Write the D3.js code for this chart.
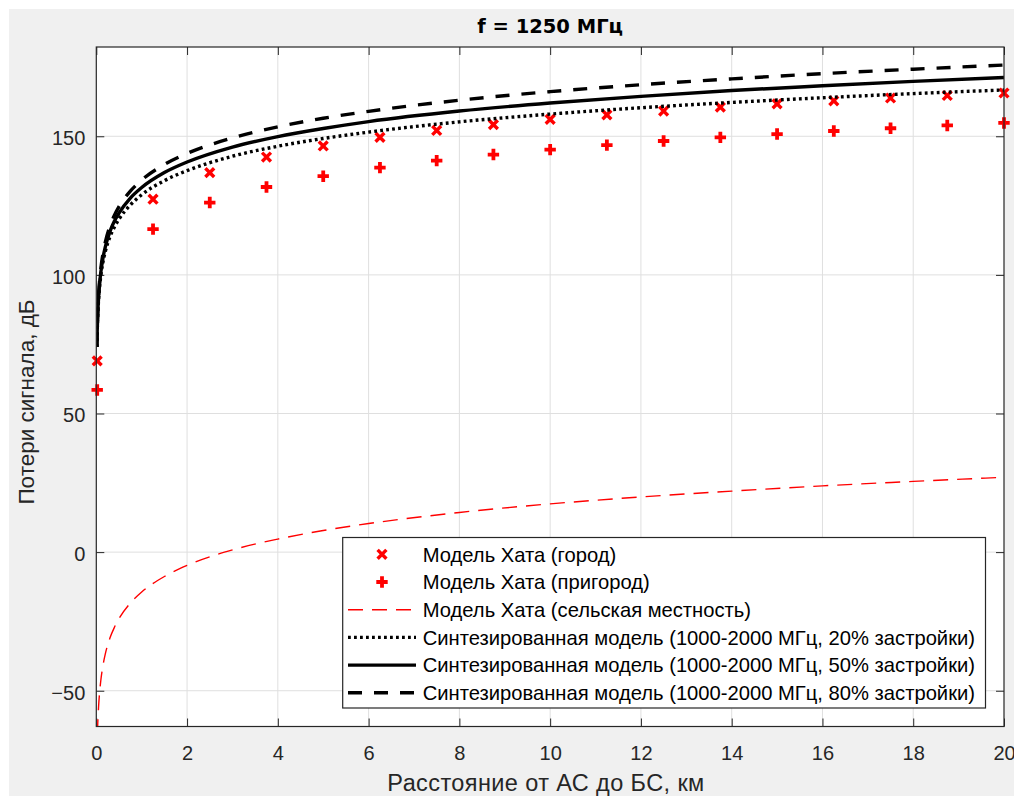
<!DOCTYPE html>
<html>
<head>
<meta charset="utf-8">
<script src="https://cdn.jsdelivr.net/npm/d3@7"></script>
<style>
  html, body { margin: 0; padding: 0; background: #ffffff; }
  svg { display: block; }
</style>
</head>
<body>
<svg id="chart" width="1014" height="796"></svg>
<script>
// Path loss vs. distance, f = 1250 MHz

// Distances (km) at which the continuous curves are sampled
const distKm = [0.013, 0.02, 0.03, 0.05, 0.075, 0.1, 0.15, 0.2, 0.3, 0.4, 0.5, 0.75,
                1, 1.5, 2, 3, 4, 5, 6, 8, 10, 12, 14, 16, 18, 20];

// Hata model, rural area (dB)
const hataRural = [-74.4, -68.4, -62.8, -55.8, -50.2, -46.2, -40.6, -36.6, -31.0, -27.1, -24.0, -18.4,
                   -14.4, -8.8, -4.8, 0.8, 4.7, 7.8, 10.3, 14.3, 17.4, 19.9, 22.0, 23.9, 25.5, 27.0];

// Synthesized model (1000-2000 MHz), 20% / 50% / 80% built-up (dB)
const synth20 = [74.0, 79.4, 84.6, 91.0, 96.1, 99.8, 104.9, 108.5, 113.7, 117.3, 120.1, 125.2,
                 128.9, 134.0, 137.6, 142.8, 146.4, 149.2, 151.5, 155.2, 158.0, 160.3, 162.2, 163.9, 165.4, 166.7];
const synth50 = [74.0, 79.7, 85.1, 91.8, 97.2, 101.0, 106.4, 110.2, 115.6, 119.4, 122.3, 127.7,
                 131.5, 136.9, 140.7, 146.1, 149.9, 152.8, 155.3, 159.1, 162.0, 164.4, 166.5, 168.2, 169.8, 171.2];
const synth80 = [74.0, 80.0, 85.6, 92.7, 98.3, 102.3, 107.9, 111.9, 117.5, 121.5, 124.6, 130.2,
                 134.2, 139.8, 143.8, 149.4, 153.4, 156.5, 159.0, 163.0, 166.1, 168.6, 170.7, 172.6, 174.2, 175.7];

// Distances (km) of the marker series
const markerKm = [0.02, 1.25, 2.5, 3.75, 5, 6.25, 7.5, 8.75, 10, 11.25, 12.5, 13.75, 15, 16.25, 17.5, 18.75, 20];
// Hata model, urban and suburban (dB)
const hataUrban    = [69.0, 127.3, 136.9, 142.5, 146.5, 149.6, 152.1, 154.2, 156.1, 157.7, 159.1, 160.5, 161.7, 162.8, 163.8, 164.7, 165.6];
const hataSuburban = [58.5, 116.5, 126.1, 131.7, 135.6, 138.7, 141.2, 143.4, 145.2, 146.8, 148.3, 149.6, 150.8, 151.9, 152.9, 153.9, 154.8];

// Axis ticks and texts
const xTicks = [0, 2, 4, 6, 8, 10, 12, 14, 16, 18, 20];
const yTicks = [-50, 0, 50, 100, 150];
const titleText = "f = 1250 МГц";
const xLabel = "Расстояние от АС до БС, км";
const yLabel = "Потери сигнала, дБ";
const legendLabels = [
  "Модель Хата (город)",
  "Модель Хата (пригород)",
  "Модель Хата (сельская местность)",
  "Синтезированная модель (1000-2000 МГц, 20% застройки)",
  "Синтезированная модель (1000-2000 МГц, 50% застройки)",
  "Синтезированная модель (1000-2000 МГц, 80% застройки)"
];

const svg = d3.select("#chart");
const axisColor = "#262626";
const textFont = "'Liberation Sans', Arial, sans-serif";

const plotLeft = 96.3, plotRight = 1004, plotTop = 47, plotBottom = 726.5;
const x = d3.scaleLinear().domain([0, 20]).range([plotLeft, plotRight]);
const y = d3.scaleLinear().domain([-62.9, 182.2]).range([plotBottom, plotTop]);

// figure background
svg.append("rect").attr("x", 9).attr("y", 9).attr("width", 1005).attr("height", 787).attr("fill", "#f0f0f0");
// axes background
svg.append("rect").attr("x", plotLeft).attr("y", plotTop).attr("width", plotRight - plotLeft)
  .attr("height", plotBottom - plotTop).attr("fill", "#ffffff");

// grid
const grid = svg.append("g").attr("stroke", "#dfdfdf").attr("stroke-width", 1);
grid.selectAll(".gx").data(xTicks.slice(1, -1)).join("line")
  .attr("x1", d => x(d)).attr("x2", d => x(d)).attr("y1", plotTop).attr("y2", plotBottom);
grid.selectAll(".gy").data(yTicks).join("line")
  .attr("x1", plotLeft).attr("x2", plotRight).attr("y1", d => y(d)).attr("y2", d => y(d));

// axes
function styleAxis(g) {
  g.select(".domain").remove();
  g.selectAll(".tick line").attr("stroke", axisColor).attr("stroke-width", 1);
  g.selectAll(".tick text").attr("fill", axisColor).style("font-family", textFont).style("font-size", "20px");
}
svg.append("g").attr("transform", `translate(0,${plotBottom})`)
  .call(d3.axisBottom(x).tickValues(xTicks).tickSizeInner(-8).tickSizeOuter(0).tickPadding(19.5).tickFormat(d3.format("d")))
  .call(styleAxis);
svg.append("g").attr("transform", `translate(${plotLeft},0)`)
  .call(d3.axisLeft(y).tickValues(yTicks).tickSizeInner(-8).tickSizeOuter(0).tickPadding(11).tickFormat(d3.format("d")))
  .call(styleAxis)
  .selectAll(".tick text").attr("dy", "0.42em");
svg.append("g").attr("transform", `translate(0,${plotTop})`)
  .call(d3.axisTop(x).tickValues(xTicks).tickSizeInner(-8).tickSizeOuter(0).tickFormat(""))
  .call(styleAxis);
svg.append("g").attr("transform", `translate(${plotRight},0)`)
  .call(d3.axisRight(y).tickValues(yTicks).tickSizeInner(-8).tickSizeOuter(0).tickFormat(""))
  .call(styleAxis);

// clip for the curves
svg.append("defs").append("clipPath").attr("id", "plotClip")
  .append("rect").attr("x", plotLeft).attr("y", plotTop).attr("width", plotRight - plotLeft).attr("height", plotBottom - plotTop);

const line = d3.line().x(d => x(d[0])).y(d => y(d[1])).curve(d3.curveMonotoneX);
const pairs = vals => distKm.map((d, i) => [d, vals[i]]);

// markers
const crossPath = s => `M${-s},${-s}L${s},${s}M${-s},${s}L${s},${-s}`;
const plusPath = s => `M${-s},0L${s},0M0,${-s}L0,${s}`;

const marks = svg.append("g");
marks.selectAll(".urban").data(markerKm).join("path")
  .attr("transform", (d, i) => `translate(${x(d)},${y(hataUrban[i])})`)
  .attr("d", crossPath(4.4)).attr("stroke", "#ff0000").attr("stroke-width", 3.4).attr("fill", "none");
marks.selectAll(".suburban").data(markerKm).join("path")
  .attr("transform", (d, i) => `translate(${x(d)},${y(hataSuburban[i])})`)
  .attr("d", plusPath(5.7)).attr("stroke", "#ff0000").attr("stroke-width", 3.8).attr("fill", "none");

const curves = svg.append("g").attr("clip-path", "url(#plotClip)").attr("fill", "none");
const series = [
  { vals: hataRural, color: "#ff0000", width: 1.4, dash: "15,9" },
  { vals: synth20, color: "#000000", width: 3.4, dash: "2.8,3.2" },
  { vals: synth50, color: "#000000", width: 3.4, dash: null },
  { vals: synth80, color: "#000000", width: 3.4, dash: "14,12" }
];
series.forEach(s => {
  curves.append("path").attr("d", line(pairs(s.vals)))
    .attr("stroke", s.color).attr("stroke-width", s.width)
    .attr("stroke-dasharray", s.dash);
});

// axes box
svg.append("rect").attr("x", plotLeft).attr("y", plotTop).attr("width", plotRight - plotLeft).attr("height", plotBottom - plotTop)
  .attr("fill", "none").attr("stroke", axisColor).attr("stroke-width", 1.2);

// title and axis labels
svg.append("text").attr("x", (plotLeft + plotRight) / 2).attr("y", 32.5).attr("text-anchor", "middle")
  .style("font-family", "'DejaVu Sans', sans-serif").style("font-weight", "bold").style("font-size", "19.5px")
  .attr("fill", "#000").text(titleText);
svg.append("text").attr("x", 546).attr("y", 791).attr("text-anchor", "middle")
  .style("font-family", textFont).style("font-size", "23.5px").style("letter-spacing", "0.4px")
  .attr("fill", axisColor).text(xLabel);
svg.append("text").attr("transform", "translate(34,402) rotate(-90)").attr("text-anchor", "middle")
  .style("font-family", textFont).style("font-size", "22.5px").attr("fill", axisColor).text(yLabel);

// legend
const lg = svg.append("g");
lg.append("rect").attr("x", 342.7).attr("y", 537.5).attr("width", 642.8).attr("height", 170.5)
  .attr("fill", "#ffffff").attr("stroke", axisColor).attr("stroke-width", 1.2);
const rowY = i => 554.3 + i * 27.7;
lg.append("path").attr("transform", `translate(382,${rowY(0)})`).attr("d", crossPath(4.4))
  .attr("stroke", "#ff0000").attr("stroke-width", 3.4).attr("fill", "none");
lg.append("path").attr("transform", `translate(382,${rowY(1)})`).attr("d", plusPath(5.7))
  .attr("stroke", "#ff0000").attr("stroke-width", 3.8).attr("fill", "none");
series.forEach((s, k) => {
  lg.append("line").attr("x1", 348).attr("x2", 416).attr("y1", rowY(k + 2)).attr("y2", rowY(k + 2))
    .attr("stroke", s.color).attr("stroke-width", s.width).attr("stroke-dasharray", s.dash);
});
lg.selectAll(".lt").data(legendLabels).join("text")
  .attr("x", 422.7).attr("y", (d, i) => rowY(i) + 7.3)
  .style("font-family", textFont).style("font-size", "20.2px").attr("fill", "#000").text(d => d);
</script>
</body>
</html>
